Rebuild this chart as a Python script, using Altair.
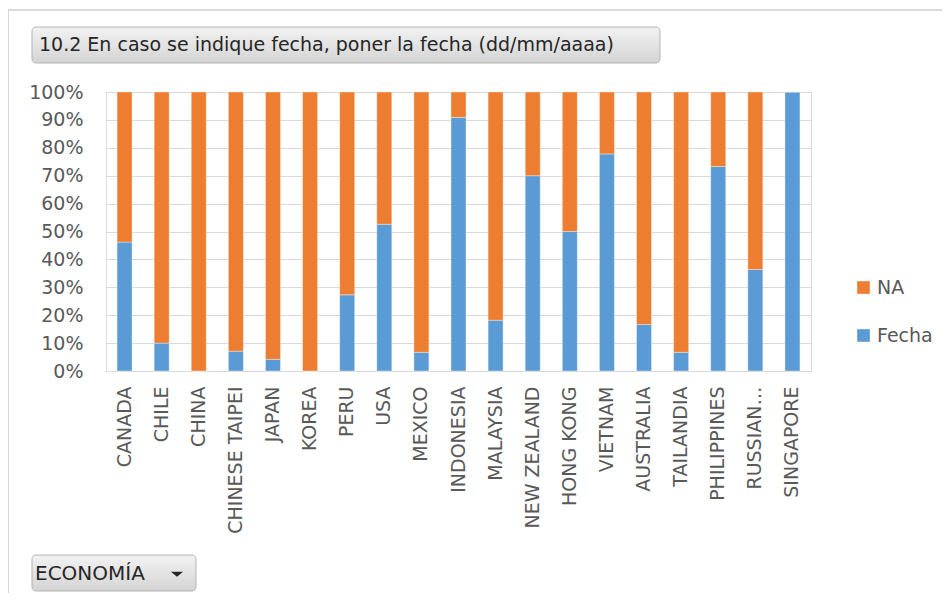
import altair as alt
import pandas as pd

# ---- data ----
countries = ["CANADA", "CHILE", "CHINA", "CHINESE TAIPEI", "JAPAN", "KOREA", "PERU", "USA",
             "MEXICO", "INDONESIA", "MALAYSIA", "NEW ZEALAND", "HONG KONG", "VIETNAM",
             "AUSTRALIA", "TAILANDIA", "PHILIPPINES", "RUSSIAN…", "SINGAPORE"]
fecha_pct = [46.2, 10.0, 0.0, 7.1, 4.2, 0.0, 27.3, 52.6, 6.7, 90.9, 18.2, 70.0, 50.0, 77.8,
             16.7, 6.7, 73.3, 36.4, 100.0]
na_pct = [100.0 - v for v in fecha_pct]
series = ["NA", "Fecha"]
series_colors = ["#ED7D31", "#5B9BD5"]
y_ticks = [0, 0.1, 0.2, 0.3, 0.4, 0.5, 0.6, 0.7, 0.8, 0.9, 1.0]
title_text = "10.2 En caso se indique fecha, poner la fecha (dd/mm/aaaa)"
filter_text = "ECONOMÍA"

rows = []
for c, f, n in zip(countries, fecha_pct, na_pct):
    rows.append({"pais": c, "serie": "Fecha", "valor": f / 100, "ord": 0})
    rows.append({"pais": c, "serie": "NA", "valor": n / 100, "ord": 1})
df = pd.DataFrame(rows)

FONT = "DejaVu Sans"
W, H = 705, 279

bars = alt.Chart(df).mark_bar(size=15, stroke="white", strokeWidth=0.6, strokeOpacity=0.6).encode(
    x=alt.X("pais:N", sort=countries, title=None,
            scale=alt.Scale(paddingInner=0.6, paddingOuter=0.3),
            axis=alt.Axis(labelAngle=-90, ticks=False, labelPadding=15, labelFontSize=19,
                          labelColor="#595959", labelFont=FONT, domainColor="#d9d9d9",
                          labelLimit=300, grid=False)),
    y=alt.Y("valor:Q", stack=True, title=None, scale=alt.Scale(domain=[0, 1], nice=False),
            axis=alt.Axis(values=y_ticks, format=".0%", ticks=False, domain=False,
                          labelPadding=23, labelFontSize=19, labelColor="#595959",
                          labelFont=FONT, gridColor="#d9d9d9", gridWidth=1)),
    color=alt.Color("serie:N", scale=alt.Scale(domain=series, range=series_colors),
                    legend=alt.Legend(title=None, orient="none", legendX=748, legendY=186,
                                      symbolType="square", symbolSize=160, symbolStrokeWidth=0,
                                      labelFontSize=19, labelFont=FONT, labelColor="#595959",
                                      rowPadding=28, labelOffset=4)),
    order=alt.Order("ord:Q"),
)

one = alt.Data(values=[{"k": 1}])

# outer frame lines
frame_top = alt.Chart(one).mark_rule(color="#d9d9d9", strokeWidth=2).encode(
    x=alt.value(-99), x2=alt.value(900), y=alt.value(-82))
frame_left = alt.Chart(one).mark_rule(color="#d9d9d9", strokeWidth=2).encode(
    x=alt.value(-98), y=alt.value(-82), y2=alt.value(520))

grad = alt.Gradient(gradient="linear", x1=0, x2=0, y1=0, y2=1,
                    stops=[alt.GradientStop(color="#f2f2f2", offset=0),
                           alt.GradientStop(color="#d4d4d4", offset=1)])

title_btn = alt.Chart(one).mark_rect(color=grad, stroke="#b3b3b3", strokeWidth=1,
                                     cornerRadius=4).encode(
    x=alt.value(-74), x2=alt.value(554), y=alt.value(-65), y2=alt.value(-29))
title_lbl = alt.Chart(one).mark_text(align="left", baseline="middle", fontSize=19, font=FONT,
                                     color="#262626").encode(
    x=alt.value(-67), y=alt.value(-47), text=alt.value(title_text))

filt_btn = alt.Chart(one).mark_rect(color=grad, stroke="#b3b3b3", strokeWidth=1,
                                    cornerRadius=4).encode(
    x=alt.value(-74), x2=alt.value(90), y=alt.value(463), y2=alt.value(499))
filt_lbl = alt.Chart(one).mark_text(align="left", baseline="middle", fontSize=20, font=FONT,
                                    color="#262626").encode(
    x=alt.value(-71), y=alt.value(482), text=alt.value(filter_text))
filt_arrow = alt.Chart(one).mark_point(shape="M -1 -0.35 L 1 -0.35 L 0 0.45 Z", filled=True,
                                       color="#262626", opacity=1, size=150).encode(
    x=alt.value(71), y=alt.value(482))

chart = alt.layer(frame_top, frame_left, title_btn, title_lbl, filt_btn, filt_lbl, filt_arrow,
                  bars).properties(
    width=W, height=H,
    autosize=alt.AutoSizeParams(type="none"),
    padding={"left": 98, "top": 84, "right": 131, "bottom": 222},
).configure_view(stroke=None).configure(background="white")

chart.save("out.html", embed_options={"renderer": "svg", "actions": False})
